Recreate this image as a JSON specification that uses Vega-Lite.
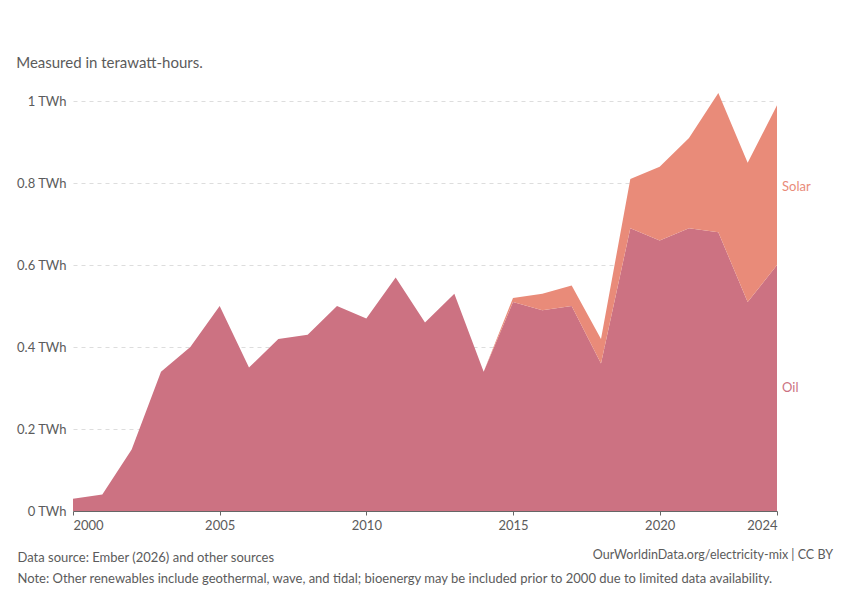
{
  "$schema": "https://vega.github.io/schema/vega-lite/v6.json",
  "width": 704,
  "height": 418,
  "padding": {"left": 16, "top": 56, "right": 10, "bottom": 10},
  "config": {"font": "Lato", "view": {"stroke": null}},
  "title": {"text": "Measured in terawatt-hours.", "anchor": "start", "frame": "bounds", "fontSize": 15, "fontWeight": "normal", "color": "#5b5b5b", "offset": 22},
  "datasets": {
    "gen": [
      {"year": 2000, "source": "Oil", "o": 1, "v": 0.03}, {"year": 2001, "source": "Oil", "o": 1, "v": 0.04},
      {"year": 2002, "source": "Oil", "o": 1, "v": 0.15}, {"year": 2003, "source": "Oil", "o": 1, "v": 0.34},
      {"year": 2004, "source": "Oil", "o": 1, "v": 0.40}, {"year": 2005, "source": "Oil", "o": 1, "v": 0.50},
      {"year": 2006, "source": "Oil", "o": 1, "v": 0.35}, {"year": 2007, "source": "Oil", "o": 1, "v": 0.42},
      {"year": 2008, "source": "Oil", "o": 1, "v": 0.43}, {"year": 2009, "source": "Oil", "o": 1, "v": 0.50},
      {"year": 2010, "source": "Oil", "o": 1, "v": 0.47}, {"year": 2011, "source": "Oil", "o": 1, "v": 0.57},
      {"year": 2012, "source": "Oil", "o": 1, "v": 0.46}, {"year": 2013, "source": "Oil", "o": 1, "v": 0.53},
      {"year": 2014, "source": "Oil", "o": 1, "v": 0.34}, {"year": 2015, "source": "Oil", "o": 1, "v": 0.51},
      {"year": 2016, "source": "Oil", "o": 1, "v": 0.49}, {"year": 2017, "source": "Oil", "o": 1, "v": 0.50},
      {"year": 2018, "source": "Oil", "o": 1, "v": 0.36}, {"year": 2019, "source": "Oil", "o": 1, "v": 0.69},
      {"year": 2020, "source": "Oil", "o": 1, "v": 0.66}, {"year": 2021, "source": "Oil", "o": 1, "v": 0.69},
      {"year": 2022, "source": "Oil", "o": 1, "v": 0.68}, {"year": 2023, "source": "Oil", "o": 1, "v": 0.51},
      {"year": 2024, "source": "Oil", "o": 1, "v": 0.60},
      {"year": 2000, "source": "Solar", "o": 2, "v": 0}, {"year": 2001, "source": "Solar", "o": 2, "v": 0},
      {"year": 2002, "source": "Solar", "o": 2, "v": 0}, {"year": 2003, "source": "Solar", "o": 2, "v": 0},
      {"year": 2004, "source": "Solar", "o": 2, "v": 0}, {"year": 2005, "source": "Solar", "o": 2, "v": 0},
      {"year": 2006, "source": "Solar", "o": 2, "v": 0}, {"year": 2007, "source": "Solar", "o": 2, "v": 0},
      {"year": 2008, "source": "Solar", "o": 2, "v": 0}, {"year": 2009, "source": "Solar", "o": 2, "v": 0},
      {"year": 2010, "source": "Solar", "o": 2, "v": 0}, {"year": 2011, "source": "Solar", "o": 2, "v": 0},
      {"year": 2012, "source": "Solar", "o": 2, "v": 0}, {"year": 2013, "source": "Solar", "o": 2, "v": 0},
      {"year": 2014, "source": "Solar", "o": 2, "v": 0}, {"year": 2015, "source": "Solar", "o": 2, "v": 0.01},
      {"year": 2016, "source": "Solar", "o": 2, "v": 0.04}, {"year": 2017, "source": "Solar", "o": 2, "v": 0.05},
      {"year": 2018, "source": "Solar", "o": 2, "v": 0.06}, {"year": 2019, "source": "Solar", "o": 2, "v": 0.12},
      {"year": 2020, "source": "Solar", "o": 2, "v": 0.18}, {"year": 2021, "source": "Solar", "o": 2, "v": 0.22},
      {"year": 2022, "source": "Solar", "o": 2, "v": 0.34}, {"year": 2023, "source": "Solar", "o": 2, "v": 0.34},
      {"year": 2024, "source": "Solar", "o": 2, "v": 0.39}
    ],
    "labels": [
      {"year": 2024, "y": 0.79, "label": "Solar"},
      {"year": 2024, "y": 0.30, "label": "Oil"}
    ],
    "credit": [
      {"year": 2024, "y": -0.107, "label": "OurWorldinData.org/electricity-mix | CC BY"}
    ]
  },
  "layer": [
    {
      "data": {"name": "gen"},
      "mark": {"type": "area", "line": false},
      "encoding": {
        "x": {"field": "year", "type": "quantitative", "scale": {"domain": [2000, 2024], "nice": false, "zero": false},
          "axis": {"values": [2000, 2005, 2010, 2015, 2020, 2024], "format": "d", "grid": false, "domainColor": "#666", "tickColor": "#666", "tickSize": 4, "labelColor": "#5b5b5b", "labelFontSize": 13, "labelPadding": 4,
            "title": ["Data source: Ember (2026) and other sources", "Note: Other renewables include geothermal, wave, and tidal; bioenergy may be included prior to 2000 due to limited data availability."],
            "titleAnchor": "start", "titleAlign": "left", "titleX": -56, "titleY": 40, "titleFontSize": 13, "titleFontWeight": "normal", "titleColor": "#5b5b5b", "titleLineHeight": 21}},
        "y": {"field": "v", "type": "quantitative", "stack": "zero", "scale": {"domain": [0, 1.02], "nice": false},
          "axis": {"values": [0, 0.2, 0.4, 0.6, 0.8, 1], "labelExpr": "datum.value + ' TWh'", "domain": false, "ticks": false, "gridDash": [4, 4], "gridColor": "#ddd", "labelColor": "#5b5b5b", "labelFontSize": 13, "labelPadding": 7, "title": null}},
        "color": {"field": "source", "type": "nominal", "scale": {"domain": ["Oil", "Solar"], "range": ["#cc7282", "#e98b79"]}, "legend": null},
        "order": {"field": "o"}
      }
    },
    {
      "data": {"name": "labels"},
      "mark": {"type": "text", "align": "left", "dx": 5, "fontSize": 13},
      "encoding": {
        "x": {"field": "year", "type": "quantitative"},
        "y": {"field": "y", "type": "quantitative"},
        "text": {"field": "label"},
        "color": {"field": "label", "type": "nominal", "scale": {"domain": ["Oil", "Solar"], "range": ["#c0506a", "#d9634f"]}, "legend": null}
      }
    },
    {
      "data": {"name": "credit"},
      "mark": {"type": "text", "align": "right", "fontSize": 12.5, "color": "#5b5b5b", "dx": 56, "clip": false},
      "encoding": {
        "x": {"field": "year", "type": "quantitative"},
        "y": {"field": "y", "type": "quantitative"},
        "text": {"field": "label"}
      }
    }
  ]
}
